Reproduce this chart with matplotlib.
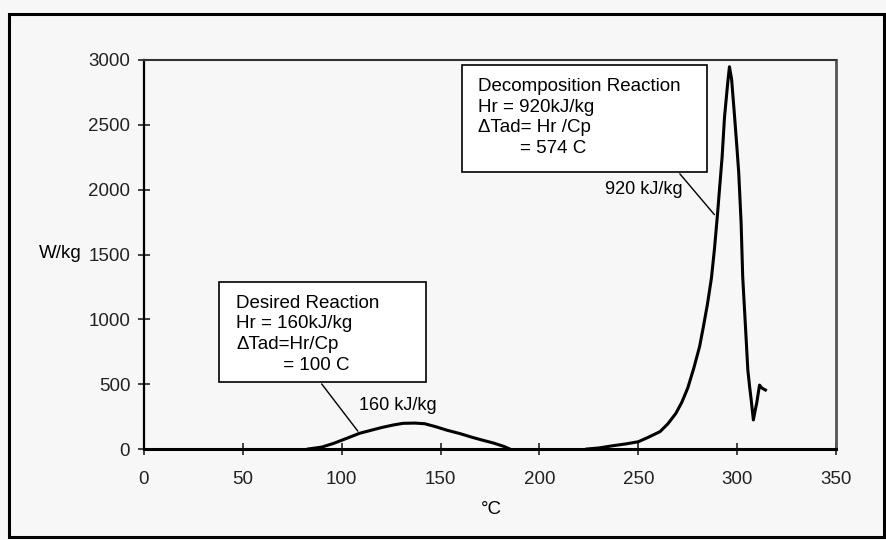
import matplotlib
matplotlib.use('Agg')
import matplotlib.pyplot as plt
from matplotlib.patches import Rectangle

plt.rcParams['font.family'] = ['Liberation Sans', 'DejaVu Sans']

# desired reaction peak (deg C, W/kg)
t_desired = [83, 90, 96, 103, 109, 115, 120, 126, 131, 137, 142, 148, 153, 160, 166, 172, 177, 182, 185]
w_desired = [0, 15, 44, 85, 121, 145, 165, 185, 198, 200, 195, 170, 146, 118, 90, 65, 45, 20, 0]

# decomposition peak
t_decomp = [224, 230, 237, 244, 250, 255, 261, 265, 269, 272, 275, 278, 281, 283, 285, 287,
            288.5, 290, 291, 292.4, 293.6, 295.2, 296.1, 297.2, 298.7, 300, 300.8, 302,
            302.8, 304.2, 305.4, 306.3, 307.1, 308.2, 309, 309.9, 311.3, 312.5, 314.3]
w_decomp = [0, 8, 25, 40, 56, 90, 134, 195, 275, 360, 470, 620, 790, 950, 1120, 1320,
            1540, 1800, 1990, 2254, 2560, 2820, 2948, 2850, 2562, 2300, 2128, 1743,
            1329, 943, 609, 480, 378, 224, 290, 355, 493, 470, 455]

x_ticks = [0, 50, 100, 150, 200, 250, 300, 350]
y_ticks = [0, 500, 1000, 1500, 2000, 2500, 3000]

desired_text = 'Desired Reaction\nHr = 160kJ/kg\n\u0394Tad=Hr/Cp\n         = 100 C'
decomp_text = 'Decomposition Reaction\nHr = 920kJ/kg\n\u0394Tad= Hr /Cp\n        = 574 C'

fig = plt.figure(figsize=(8.86, 5.40), dpi=100, facecolor='#f7f7f7')
ax = fig.add_axes([0.1625, 0.1685, 0.7811, 0.7204])
ax.set_facecolor('#f7f7f7')

ax.plot(t_desired, w_desired, color='black', lw=2.2, clip_on=False, zorder=3)
ax.plot(t_decomp, w_decomp, color='black', lw=2.2, clip_on=False, zorder=3)

ax.set_xlim(0, 350)
ax.set_ylim(0, 3000)
ax.set_xticks(x_ticks)
ax.set_yticks(y_ticks)
ax.tick_params(axis='both', direction='inout', length=8.6, width=1.2, labelsize=13.5,
               colors='#222222')
ax.tick_params(axis='y', pad=5.6)
ax.tick_params(axis='x', pad=11.5)

ax.spines['left'].set_linewidth(1.6)
ax.spines['bottom'].set_linewidth(2.2)
ax.spines['top'].set_linewidth(1.5)
ax.spines['top'].set_color('#333333')
ax.spines['right'].set_linewidth(2)
ax.spines['right'].set_color('#555555')

# axis labels placed in pixel coordinates (origin bottom-left)
ax.text(491, 540 - 509, '\u00b0C', transform=None, fontsize=13.5, ha='center', va='center')
ax.text(82, 540 - 254, 'W/kg', transform=None, fontsize=13.5, ha='right', va='center')

# text boxes
ax.add_patch(Rectangle((0.1084, 0.173), 0.2991, 0.257, transform=ax.transAxes,
                       facecolor='white', edgecolor='black', lw=1.2, zorder=4))
ax.text(0.133, 0.295, desired_text, transform=ax.transAxes, fontsize=13.5,
        ha='left', va='center', linespacing=1.28, zorder=5)
ax.add_patch(Rectangle((0.4595, 0.7129), 0.3534, 0.2742, transform=ax.transAxes,
                       facecolor='white', edgecolor='black', lw=1.2, zorder=4))
ax.text(0.483, 0.852, decomp_text, transform=ax.transAxes, fontsize=13.5,
        ha='left', va='center', linespacing=1.28, zorder=5)

# leader lines and peak labels
ax.annotate('', xy=(109, 121), xycoords='data', xytext=(0.2543, 0.173),
            textcoords='axes fraction', arrowprops=dict(arrowstyle='-', lw=1, color='black'))
ax.annotate('', xy=(289.4, 1791), xycoords='data', xytext=(0.7717, 0.7129),
            textcoords='axes fraction', arrowprops=dict(arrowstyle='-', lw=1, color='black'))
ax.text(0.367, 0.113, '160 kJ/kg', transform=ax.transAxes, fontsize=13,
        ha='center', va='center')
ax.text(0.7225, 0.666, '920 kJ/kg', transform=ax.transAxes, fontsize=13,
        ha='center', va='center')

# outer frame
fig.patches.append(Rectangle((9 / 886, 3 / 540), 875 / 886, 523 / 540,
                             transform=fig.transFigure, fill=False,
                             edgecolor='black', lw=2.2))

fig.savefig('out.png', dpi=100, facecolor=fig.get_facecolor())
